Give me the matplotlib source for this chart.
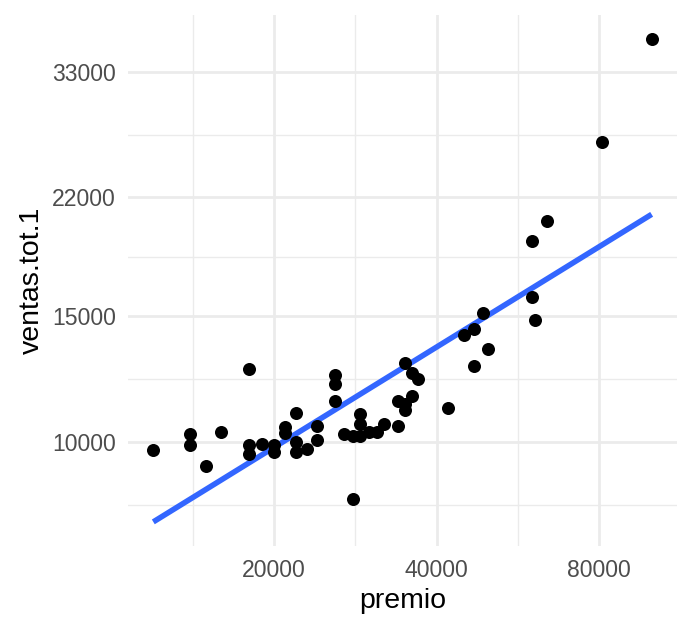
import numpy as np
import matplotlib
matplotlib.use('Agg')
import matplotlib.pyplot as plt
from matplotlib.ticker import FixedLocator, NullFormatter

plt.rcParams['font.family'] = ['Liberation Sans', 'DejaVu Sans']

# ── data (log–log axes) ───────────────────────────────────────────────────────
premio = [11960, 13980, 13980, 15000, 15960, 17980, 17980, 17980, 18980, 20000,
          20000, 20960, 20960, 21940, 21940, 21940, 22990, 23990, 23990, 25960,
          25960, 25960, 26930, 28010, 27990, 28910, 28910, 28910, 29980, 30980,
          31960, 33920, 33920, 34950, 34950, 34950, 35960, 35960, 36990, 41920,
          44990, 46950, 46950, 48780, 49840, 59950, 59950, 60930, 63910, 80780,
          99960]
ventas = [9750, 10250, 9900, 9260, 10340, 12640, 9900, 9630, 9930, 9910,
          9670, 10480, 10280, 10970, 9980, 9690, 9770, 10540, 10060, 12400,
          12060, 11410, 10270, 10200, 8320, 10930, 10600, 10200, 10320, 10310,
          10590, 11420, 10530, 12910, 11290, 11070, 12470, 11610, 12240, 11140,
          14120, 14370, 12770, 15180, 13480, 19100, 15950, 14800, 20370, 26300,
          36670]

x_breaks = [20000, 40000, 80000]
y_breaks = [10000, 15000, 22000, 33000]

# ── linear fit in log-log space (geom_smooth, method = lm) ────────────────────
lx, ly = np.log(premio), np.log(ventas)
slope, icpt = np.polyfit(lx, ly, 1)
xs = np.exp(np.linspace(lx.min(), lx.max(), 100))
ys = np.exp(icpt + slope * np.log(xs))


def expand(lo, hi, f=0.05):
    a, b = np.log(lo), np.log(hi)
    d = (b - a) * f
    return np.exp(a - d), np.exp(b + d)


def minors(br):
    lb = np.log(br)
    mids = (lb[:-1] + lb[1:]) / 2
    step = lb[1] - lb[0]
    return list(np.exp(np.concatenate([[lb[0] - step / 2], mids,
                                       [lb[-1] + (lb[-1] - lb[-2]) / 2]])))


# ── plot ──────────────────────────────────────────────────────────────────────
fig = plt.figure(figsize=(6.91, 6.33), dpi=100)
ax = fig.add_axes([0.1858, 0.1374, 0.7933, 0.8389])

ax.set_xscale('log')
ax.set_yscale('log')

ax.plot(xs, ys, color='#3366FF', linewidth=4, zorder=3, solid_capstyle='butt')
ax.scatter(premio, ventas, s=88, color='black', linewidths=0, zorder=4)

ax.set_xlim(*expand(min(premio), max(premio)))
ax.set_ylim(*expand(min(min(ventas), ys.min()), max(max(ventas), ys.max())))

ax.xaxis.set_major_locator(FixedLocator(x_breaks))
ax.xaxis.set_minor_locator(FixedLocator(minors(x_breaks)))
ax.yaxis.set_major_locator(FixedLocator(y_breaks))
ax.yaxis.set_minor_locator(FixedLocator(minors(y_breaks)))
ax.set_xticklabels([str(v) for v in x_breaks])
ax.set_yticklabels([str(v) for v in y_breaks])
ax.xaxis.set_minor_formatter(NullFormatter())
ax.yaxis.set_minor_formatter(NullFormatter())

ax.grid(True, which='major', color='#EBEBEB', linewidth=2.0)
ax.grid(True, which='minor', color='#EBEBEB', linewidth=1.0)
ax.set_axisbelow(True)
for s in ax.spines.values():
    s.set_visible(False)
ax.tick_params(which='both', length=0, labelsize=16.6, colors='#4D4D4D', pad=9)

ax.set_xlabel('premio', fontsize=20.5, color='black', labelpad=5)
ax.set_ylabel('ventas.tot.1', fontsize=20.5, color='black', labelpad=5)

fig.savefig('out.png', dpi=100)
